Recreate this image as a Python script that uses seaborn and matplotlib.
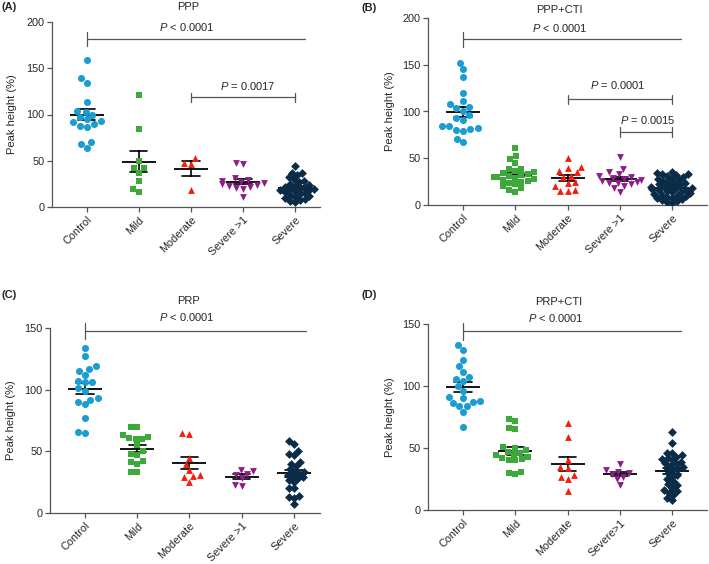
import numpy as np
import pandas as pd
import matplotlib
matplotlib.use('Agg')
import matplotlib.pyplot as plt
import seaborn as sns

# categories
groups = ['Control', 'Mild', 'Moderate', 'Severe >1', 'Severe']
groups_d = ['Control', 'Mild', 'Moderate', 'Severe>1', 'Severe']

# (A) PPP
ppp_control = [159, 139, 134, 113, 104, 103, 100, 97, 95, 93, 92, 90, 88, 87, 70, 68, 64]
ppp_mild = [121, 84, 50, 42, 42, 37, 28, 20, 16]
ppp_moderate = [53, 48, 47, 18]
ppp_severe1 = [48, 47, 31, 29, 28, 27, 26, 25, 24, 23, 22, 21, 20, 11]
ppp_severe = [44, 37, 37, 35, 32, 30, 28, 27, 25, 24, 23, 22, 21, 20, 20,
              19, 18, 18, 17, 16, 15, 14, 13, 12, 11, 10, 9, 8, 7, 5]

# (B) PPP+CTI
pppc_control = [152, 145, 137, 120, 111, 108, 105, 104, 101, 96,
                93, 91, 85, 84, 82, 81, 80, 79, 71, 67]
pppc_mild = [61, 52, 49, 45, 39, 38, 36, 35, 34, 33, 32, 31, 30, 30, 29,
             28, 27, 26, 25, 24, 22, 20, 18, 16, 14]
pppc_moderate = [50, 41, 40, 36, 35, 31, 30, 25, 24, 20, 16, 15, 15]
pppc_severe1 = [51, 39, 35, 33, 31, 30, 29, 28, 27, 26, 25, 24, 23, 22, 20, 18, 14]
pppc_severe = [35, 34, 33, 33, 32, 31, 30, 29, 28, 27, 26, 25, 24, 23, 22, 21, 20, 20, 19, 18,
               18, 17, 16, 16, 15, 14, 14, 13, 12, 11, 10, 10, 9, 8, 7, 6, 5, 4, 3, 2]

# (C) PRP
prp_control = [134, 127, 119, 117, 115, 112, 107, 106, 106, 101, 99, 93, 92, 90, 88, 77, 66, 65]
prp_mild = [70, 70, 63, 62, 61, 60, 60, 55, 50, 48, 47, 42, 41, 40, 33, 33]
prp_moderate = [65, 64, 45, 40, 35, 31, 30, 29, 25]
prp_severe1 = [35, 34, 32, 31, 28, 23, 22]
prp_severe = [58, 56, 50, 48, 47, 41, 40, 38, 36, 34, 33, 32, 31, 30, 29, 28, 27, 25,
              20, 20, 14, 13, 12, 7]

# (D) PRP+CTI
prpc_control = [133, 129, 121, 116, 111, 107, 106, 104, 100, 96, 91, 90, 88, 87, 86, 84, 84, 79, 67]
prpc_mild = [73, 72, 66, 65, 51, 50, 48, 47, 46, 45, 44, 43, 42, 41, 40, 40, 31, 30, 29]
prpc_moderate = [70, 59, 40, 35, 34, 28, 27, 25, 15]
prpc_severe1 = [37, 32, 31, 30, 29, 27, 25, 20]
prpc_severe = [63, 54, 46, 46, 44, 43, 42, 41, 40, 39, 38, 37, 36, 35, 34, 33, 32, 30, 28, 27,
               25, 23, 21, 20, 18, 16, 15, 14, 12, 10, 8]

colors = ['#1A9DD0', '#3DA93A', '#F41E0C', '#8E1C8C', '#0B2C48']
markers = ['o', 's', '^', 'v', 'D']
sizes = [6.2, 5.6, 6.0, 6.0, 4.5]

sns.set_theme(style='ticks')
plt.rcParams['font.family'] = ['Liberation Sans', 'DejaVu Sans']
plt.rcParams['mathtext.fontset'] = 'custom'
plt.rcParams['mathtext.it'] = 'Liberation Sans:italic'
plt.rcParams['mathtext.rm'] = 'Liberation Sans'

W, H = 709, 564
fig = plt.figure(figsize=(W / 100, H / 100), dpi=100)
grey = '#555555'
swarms = []


def panel(px, xlim, ylim, yticks, values, labels, title, title_xy, main, pairs, ylab_x):
    # px = (left, right, top, bottom) in pixels
    l, r, t, b = px
    ax = fig.add_axes([l / W, 1 - b / H, (r - l) / W, (b - t) / H])
    df = pd.DataFrame({'group': np.repeat(labels, [len(v) for v in values]),
                       'value': np.concatenate(values).astype(float)})
    for g, c, m, s in zip(labels, colors, markers, sizes):
        # swarm is packed with a smaller marker, enlarged after layout (points overlap a bit)
        sns.swarmplot(data=df[df.group == g], x='group', y='value', order=labels,
                      color=c, marker=m, size=s * 0.82, linewidth=0, ax=ax)
        swarms.append((ax.collections[-1], s))
    sns.pointplot(data=df, x='group', y='value', order=labels, errorbar='se',
                  capsize=0.33, color='black', linestyle='none', marker='_',
                  markersize=25, markeredgewidth=1.3,
                  err_kws={'linewidth': 1.2}, ax=ax)
    ax.set_xlim(*xlim)
    ax.set_ylim(*ylim)
    ax.set_yticks(yticks)
    ax.set_xlabel('')
    ax.set_ylabel('Peak height (%)', fontsize=8)
    ax.yaxis.set_label_coords(ylab_x, 0.5)
    ax.tick_params(labelsize=7.8, length=3.5, width=0.9, color=grey, pad=2)
    plt.setp(ax.get_xticklabels(), rotation=45, ha='right', rotation_mode='anchor')
    sns.despine(ax=ax)
    for sp in ['left', 'bottom']:
        ax.spines[sp].set_color(grey)
        ax.spines[sp].set_linewidth(0.9)

    ax.text(title_xy[0], title_xy[1], title, ha='center', va='center', fontsize=8, clip_on=False)
    # main bracket: Control vs all
    y, x_end, d, tx, ty, txt = main
    ax.plot([0, x_end], [y, y], color=grey, lw=0.9, clip_on=False)
    ax.plot([0, 0], [y - d, y + d], color=grey, lw=0.9, clip_on=False)
    ax.text(tx, ty, txt, ha='center', va='center', fontsize=8, clip_on=False)
    for x0, x1, y, d, tx, ty, txt in pairs:
        ax.plot([x0, x1], [y, y], color=grey, lw=0.9)
        ax.plot([x0, x0], [y - d, y + d], color=grey, lw=0.9)
        ax.plot([x1, x1], [y - d, y + d], color=grey, lw=0.9)
        ax.text(tx, ty, txt, ha='center', va='center', fontsize=8)
    return ax


panel((52, 320, 22, 207), (-0.67, 4.48), (0, 200), [0, 50, 100, 150, 200],
      [ppp_control, ppp_mild, ppp_moderate, ppp_severe1, ppp_severe], groups,
      'PPP', (1.94, 216),
      (181.6, 4.2, 8, 1.92, 195, '$P$ < 0.0001'),
      [(2, 4, 118.5, 5, 3.1, 131, '$P$ = 0.0017')], -0.13)

panel((428, 707, 18, 205), (-0.67, 4.67), (0, 200), [0, 50, 100, 150, 200],
      [pppc_control, pppc_mild, pppc_moderate, pppc_severe1, pppc_severe], groups,
      'PPP+CTI', (1.84, 208.5),
      (177.5, 4.17, 8, 1.86, 189, '$P$ < 0.0001'),
      [(2, 4, 113, 5, 2.96, 128, '$P$ = 0.0001'),
       (3, 4, 78, 5, 3.54, 91, '$P$ = 0.0015')], -0.12)

panel((50, 320, 328, 513), (-0.67, 4.5), (0, 150), [0, 50, 100, 150],
      [prp_control, prp_mild, prp_moderate, prp_severe1, prp_severe], groups,
      'PRP', (1.98, 172),
      (147.6, 4.23, 6.5, 1.96, 159, '$P$ < 0.0001'), [], -0.125)

panel((428, 707, 324, 510), (-0.67, 4.67), (0, 150), [0, 50, 100, 150],
      [prpc_control, prpc_mild, prpc_moderate, prpc_severe1, prpc_severe], groups_d,
      'PRP+CTI', (1.84, 168),
      (144, 4.17, 6.5, 1.77, 155, '$P$ < 0.0001'), [], -0.12)

for x, y, s in [(2, 7, '(A)'), (362, 8, '(B)'), (2, 295, '(C)'), (362, 295, '(D)')]:
    fig.text(x / W, 1 - y / H, s, fontsize=8, fontweight='bold', va='center', ha='left')

# let seaborn lay out the swarms once, then freeze them and show full-size markers
fig.canvas.draw()
for coll, s in swarms:
    if 'draw' in coll.__dict__:
        del coll.draw
    coll.set_sizes([s ** 2])

fig.savefig('out.png', dpi=100)
